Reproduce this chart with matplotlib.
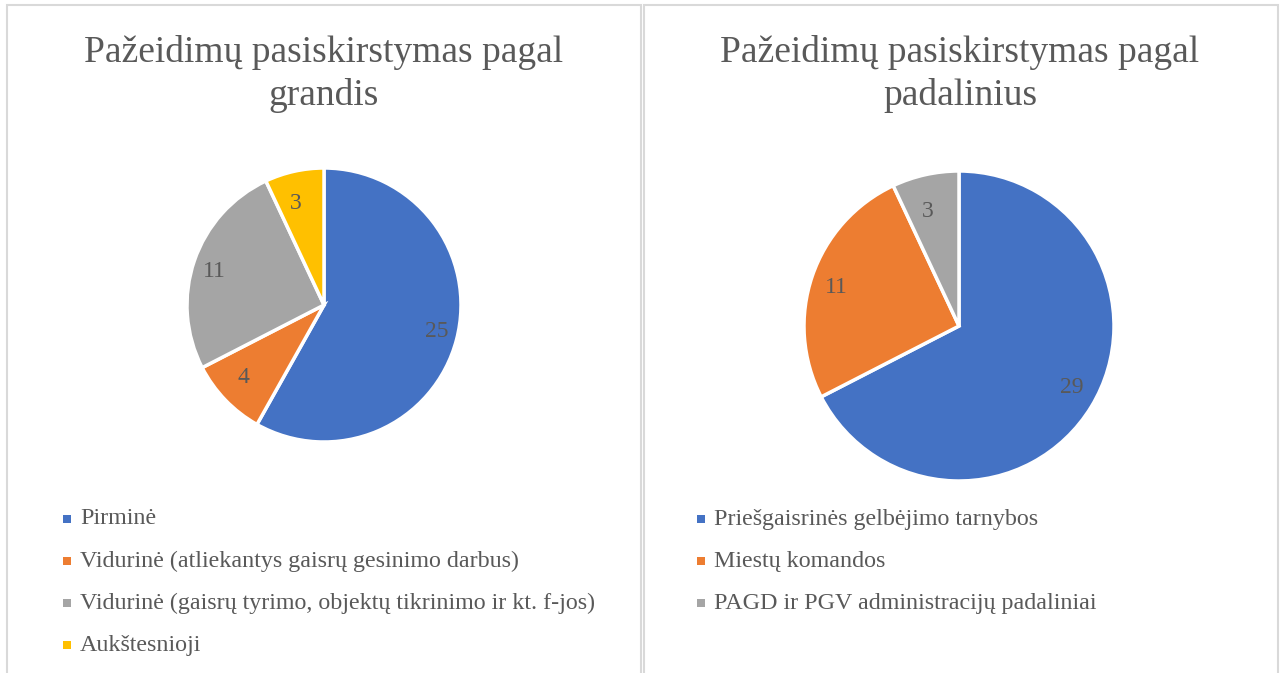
import matplotlib
matplotlib.use('Agg')
import matplotlib.pyplot as plt
from matplotlib.patches import Rectangle

# duomenys
titles = ['Pažeidimų pasiskirstymas pagal\ngrandis',
          'Pažeidimų pasiskirstymas pagal\npadalinius']

grandys = ['Pirminė',
           'Vidurinė (atliekantys gaisrų gesinimo darbus)',
           'Vidurinė (gaisrų tyrimo, objektų tikrinimo ir kt. f-jos)',
           'Aukštesnioji']
grandys_values = [25, 4, 11, 3]

padaliniai = ['Priešgaisrinės gelbėjimo tarnybos',
              'Miestų komandos',
              'PAGD ir PGV administracijų padaliniai']
padaliniai_values = [29, 11, 3]

colors = ['#4472C4', '#ED7D31', '#A5A5A5', '#FFC000']
text_color = '#595959'
border_color = '#D9D9D9'

W, H = 1282, 673
plt.rcParams['font.family'] = ['Liberation Serif', 'DejaVu Serif']

fig = plt.figure(figsize=(W / 100, H / 100), dpi=100)


def px_axes(cx, cy, r):
    return fig.add_axes([(cx - r) / W, (H - cy - r) / H, 2 * r / W, 2 * r / H])


# panel borders
for x0, x1 in [(7, 641), (644, 1278)]:
    fig.patches.append(Rectangle((x0 / W, -0.1), (x1 - x0) / W, (H - 5) / H + 0.1,
                                 transform=fig.transFigure, fill=False,
                                 edgecolor=border_color, linewidth=1.5))

panels = [
    (titles[0], grandys, grandys_values, 324, 305, 137, 324, 67),
    (titles[1], padaliniai, padaliniai_values, 959, 326, 155, 960, 701),
]

for title, labels, values, cx, cy, r, tx, lx in panels:
    ax = px_axes(cx, cy, r)
    wedges, texts = ax.pie(values, colors=colors[:len(values)], startangle=90,
                           counterclock=False, labels=[str(v) for v in values],
                           labeldistance=0.76,
                           wedgeprops=dict(edgecolor='white', linewidth=2.5),
                           textprops=dict(color=text_color, fontsize=17))
    ax.set_aspect('equal')
    ax.set_xlim(-1, 1)
    ax.set_ylim(-1, 1)

    fig.text(tx / W, 1 - 74 / H, title, ha='center', va='center',
             fontsize=27, color=text_color, linespacing=1.33)

    for i, lab in enumerate(labels):
        y = 519 + 42 * i
        fig.patches.append(Rectangle(((lx - 4) / W, 1 - (y + 4) / H), 8 / W, 8 / H,
                                     transform=fig.transFigure,
                                     facecolor=colors[i], edgecolor='none'))
        fig.text((lx + 13) / W, 1 - y / H, lab, ha='left', va='center',
                 fontsize=17.3, color=text_color)

fig.savefig('out.png', dpi=100)
